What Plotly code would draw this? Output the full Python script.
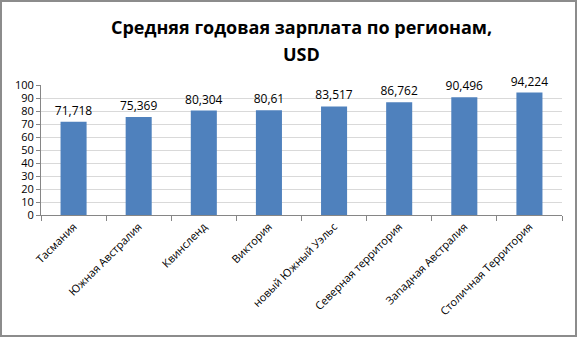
import plotly.graph_objects as go

regions = ["Тасмания", "Южная Австралия", "Квинсленд", "Виктория",
           "новый Южный Уэльс", "Северная территория", "Западная Австралия",
           "Столичная Территория"]
salary = [71.718, 75.369, 80.304, 80.61, 83.517, 86.762, 90.496, 94.224]
y_ticks = [0, 10, 20, 30, 40, 50, 60, 70, 80, 90, 100]
title_lines = ["Средняя годовая зарплата по регионам,", "USD"]

labels = [str(v).replace(".", ",") for v in salary]
FONT = "Open Sans, Liberation Sans, sans-serif"

fig = go.Figure(go.Bar(
    x=regions, y=salary,
    marker=dict(color="#4f81bd", line=dict(width=0)),
    text=labels, textposition="outside", cliponaxis=False,
    constraintext="none",
    textfont=dict(family=FONT, size=12, color="#000000"),
))

# two-line bold title, each line placed on its own
title_ann = [
    dict(text="<b>" + line + "</b>", xref="paper", yref="paper",
         x=0.5, y=1 + (85 - cy) / 130, xanchor="center", yanchor="middle",
         showarrow=False, font=dict(family=FONT, size=18, color="#000000"))
    for line, cy in zip(title_lines, [27, 54])
]

fig.update_layout(
    width=577, height=337,
    margin=dict(l=41, r=15, t=85, b=122),
    paper_bgcolor="white", plot_bgcolor="white",
    bargap=0.6, showlegend=False,
    font=dict(family=FONT, size=11, color="#000000"),
    annotations=title_ann,
    shapes=[dict(type="rect", xref="paper", yref="paper",
                 x0=-40/521, x1=1+14/521, y0=-121/130, y1=1+84/130,
                 line=dict(color="#8c8c8c", width=2))],
)

fig.update_xaxes(
    type="category", tickangle=-45, tickson="boundaries",
    ticks="outside", ticklen=5, tickcolor="#868686",
    showline=True, linecolor="#868686", linewidth=1,
    showgrid=False, tickfont=dict(size=11),
)
fig.update_yaxes(
    range=[0, 100], tickvals=y_ticks,
    ticks="outside", ticklen=4, tickcolor="#868686",
    showline=True, linecolor="#868686", linewidth=1,
    showgrid=True, gridcolor="#d9d9d9", gridwidth=1,
    zeroline=False, tickfont=dict(size=11),
)

fig.write_html("out.html")
